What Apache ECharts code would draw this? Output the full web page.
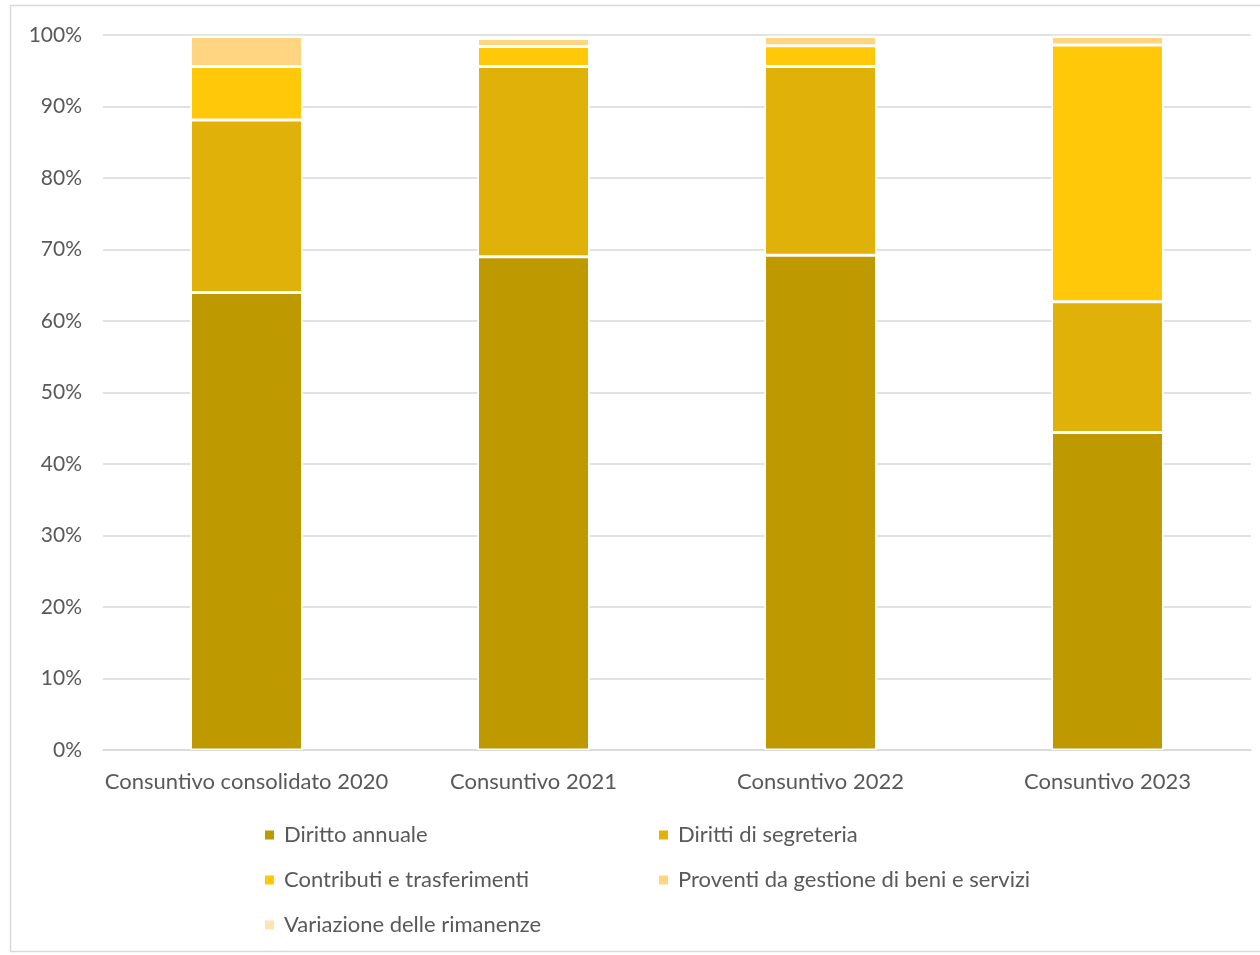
<!DOCTYPE html>
<html>
<head>
<meta charset="utf-8">
<script src="https://cdn.jsdelivr.net/npm/echarts@6/dist/echarts.min.js"></script>
<style>
html,body{margin:0;padding:0;background:#fff;}
#chart{width:1260px;height:955px;}
</style>
</head>
<body>
<div id="chart"></div>
<script>
const categories = ['Consuntivo consolidato 2020', 'Consuntivo 2021', 'Consuntivo 2022', 'Consuntivo 2023'];
const yTicks = [0, 10, 20, 30, 40, 50, 60, 70, 80, 90, 100];
const dirittoAnnuale = [64.0, 69.0, 69.2, 44.4];
const dirittiSegreteria = [24.1, 26.6, 26.4, 18.3];
const contributi = [7.5, 2.8, 2.9, 35.9];
const proventi = [4.2, 1.1, 1.3, 1.2];
const variazione = [0, 0, 0, 0];

const seriesNames = ['Diritto annuale', 'Diritti di segreteria', 'Contributi e trasferimenti', 'Proventi da gestione di beni e servizi', 'Variazione delle rimanenze'];
const seriesData = [dirittoAnnuale, dirittiSegreteria, contributi, proventi, variazione];
const colors = ['#BF9900', '#E0B108', '#FFC90A', '#FFD581', '#FFE3B3'];

const FONT = 'Lato';
const chart = echarts.init(document.getElementById('chart'));
chart.setOption({
  animation: false,
  textStyle: { fontFamily: FONT },
  graphic: [{
    type: 'rect', shape: { x: 10.5, y: 5.5, width: 1260, height: 946 },
    style: { fill: 'none', stroke: '#d9d9d9', lineWidth: 1.5 }, silent: true
  }],
  grid: { left: 103, right: 9, top: 35, bottom: 205 },
  legend: [
    {
      orient: 'vertical', left: 258, top: 819, itemGap: 23,
      itemWidth: 11, itemHeight: 11, icon: 'rect',
      textStyle: { fontFamily: FONT, fontSize: 22, color: '#595959', padding: [0, 0, 0, 4] },
      data: [seriesNames[0], seriesNames[2], seriesNames[4]]
    },
    {
      orient: 'vertical', left: 652, top: 819, itemGap: 23,
      itemWidth: 11, itemHeight: 11, icon: 'rect',
      textStyle: { fontFamily: FONT, fontSize: 22, color: '#595959', padding: [0, 0, 0, 4] },
      data: [seriesNames[1], seriesNames[3]]
    }
  ],
  xAxis: {
    type: 'category', data: categories,
    axisLine: { lineStyle: { color: '#d9d9d9', width: 1.5 } },
    axisTick: { show: false },
    axisLabel: { interval: 0, fontFamily: FONT, fontSize: 22, color: '#595959', margin: 21 }
  },
  yAxis: {
    type: 'value', min: yTicks[0], max: yTicks[yTicks.length - 1], interval: 10,
    axisLine: { show: false }, axisTick: { show: false },
    axisLabel: { fontFamily: FONT, fontSize: 21, color: '#595959', margin: 21, formatter: '{value}%' },
    splitLine: { lineStyle: { color: '#d9d9d9', width: 1.5 } }
  },
  series: seriesNames.map((n, i) => ({
    name: n, type: 'bar', stack: 'total', data: seriesData[i],
    barWidth: 112,
    itemStyle: { color: colors[i], borderColor: '#ffffff', borderWidth: 1.5 }
  }))
});
</script>
</body>
</html>
